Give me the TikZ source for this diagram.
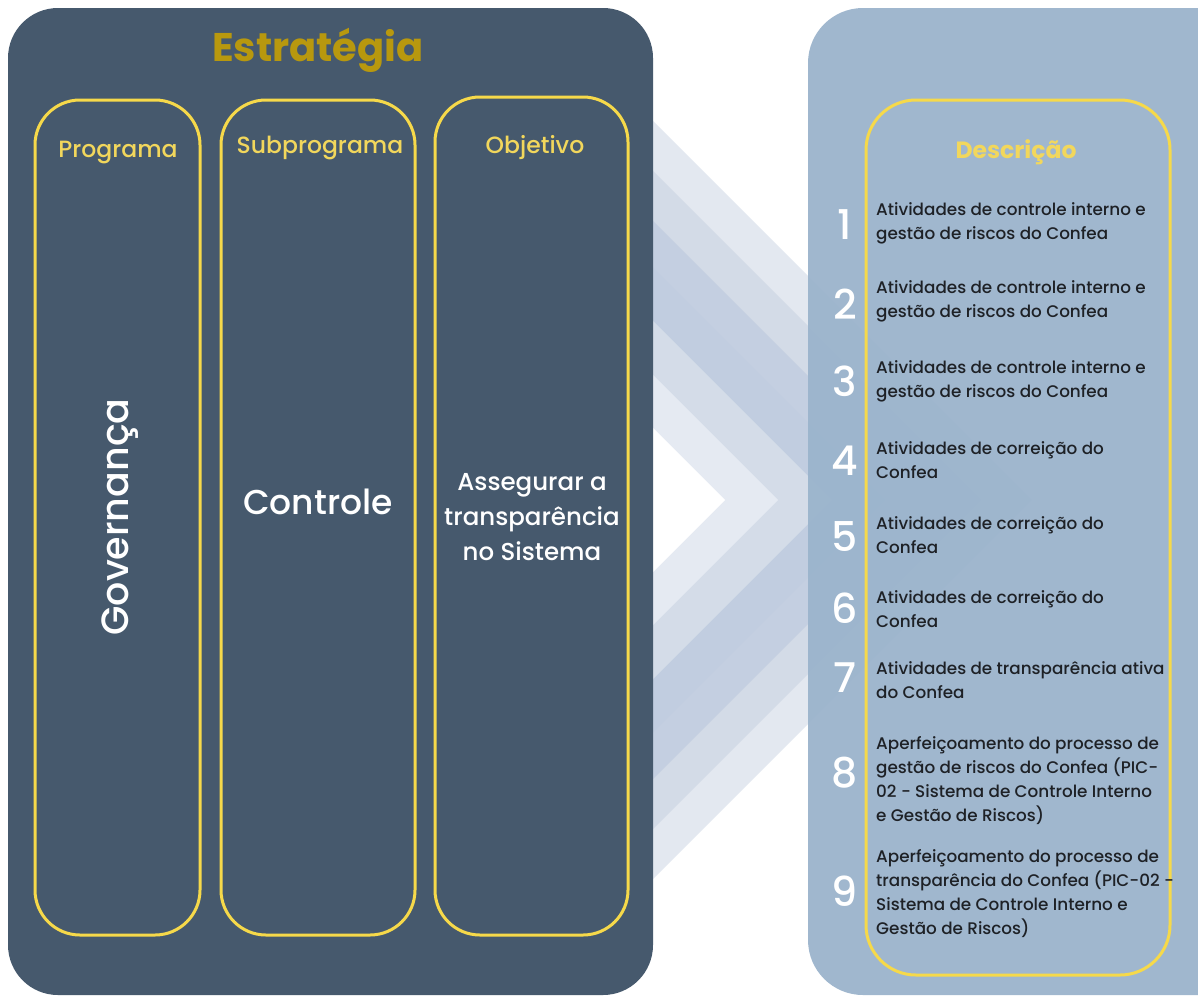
\documentclass[tikz,border=0pt]{standalone}
\usepackage{fontspec}
\setmainfont{Poppins}
\newfontfamily\pmed{Poppins Medium}
\definecolor{leftpanel}{HTML}{46596D}
\definecolor{rightpanel}{HTML}{9BB4CC}
\definecolor{boxyellow}{HTML}{F6D94A}
\definecolor{hdryellow}{HTML}{F2D75C}
\definecolor{titlegold}{HTML}{B8980E}
\definecolor{desctext}{HTML}{1E2126}
\definecolor{chA}{HTML}{E3E8F0}
\definecolor{chB}{HTML}{D3DBE7}
\definecolor{chC}{HTML}{C4CFE1}
\definecolor{chD}{HTML}{C1CDE0}
\definecolor{chE}{HTML}{D4DCE8}
\definecolor{chF}{HTML}{E5EAF2}
\begin{document}
\begin{tikzpicture}[x=1pt,y=-1pt,
  ybox/.style={draw=boxyellow, line width=3pt, rounded corners=45pt, inner sep=0pt},
  hdr/.style={text=hdryellow, font=\pmed\fontsize{23.5}{26}\selectfont},
  big/.style={text=white, align=center},
  num/.style={text=white, font=\pmed\fontsize{41}{41}\selectfont},
  desc/.style={text=desctext, font=\pmed\fontsize{16.8}{24}\selectfont, align=left, anchor=west, inner sep=0pt},
]
\useasboundingbox (0,0) rectangle (1198,996);
\clip (0,0) rectangle (1198,996);
\fill[white] (0,0) rectangle (1198,996);
% chevrons
\begin{scope}
\clip (653,0) rectangle (1198,996);
\foreach \t/\c in {1032/chA, 982/chB, 932/chC, 885/chD, 832/chE, 778/chF, 725/white}
  \fill[\c] (330,{500-(\t-330)}) -- (\t,500) -- (330,{500+(\t-330)}) -- cycle;
\end{scope}
% panels
\fill[leftpanel, rounded corners=50pt] (8,8) rectangle (653,995);
\fill[rightpanel, opacity=0.95, rounded corners=55pt] (808,8) rectangle (1280,995);
% title
\node[text=titlegold, font=\bfseries\fontsize{40}{42}\selectfont] (title) at (318,50) {Estratégia};
% boxes
\node[ybox, minimum width=165pt, minimum height=835pt] (prog) at (117.5,517.5) {};
\node[ybox, minimum width=194pt, minimum height=835pt] (sub) at (318,517.5) {};
\node[ybox, minimum width=193pt, minimum height=838pt] (obj) at (531.5,516) {};
\node[ybox, rounded corners=50pt, minimum width=304pt, minimum height=875pt] (descbox) at (1018,537.5) {};
% headers
\node[hdr] (progT) at (118,153) {Programa};
\node[hdr] (subT) at (320,148) {Subprograma};
\node[hdr] (objT) at (535,148) {Objetivo};
\node[text=hdryellow, font=\bfseries\fontsize{23.5}{26}\selectfont] (descT) at (1016,152) {Descrição};
% contents
\node[big, rotate=90, font=\pmed\fontsize{38}{38}\selectfont] (gov) at (120,517) {Governança};
\node[big, font=\pmed\fontsize{34.5}{34}\selectfont] (ctrl) at (318,502) {Controle};
\node[big, font=\pmed\fontsize{24.5}{35}\selectfont] (assg) at (532,517) {Assegurar a\\transparência\\no Sistema};
% numbers
\foreach \n/\y in {1/225,2/304,3/381,4/461,5/537,6/608,7/678,8/773,9/891}
  \node[num] (n\n) at (845,\y) {\n};
% descriptions
\node[desc] (d1) at (876,223) {Atividades de controle interno e\\gestão de riscos do Confea};
\node[desc] (d2) at (876,301) {Atividades de controle interno e\\gestão de riscos do Confea};
\node[desc] (d3) at (876,381) {Atividades de controle interno e\\gestão de riscos do Confea};
\node[desc] (d4) at (876,460) {Atividades de correição do\\Confea};
\node[desc] (d5) at (876,535) {Atividades de correição do\\Confea};
\node[desc] (d6) at (876,609) {Atividades de correição do\\Confea};
\node[desc] (d7) at (876,680) {Atividades de transparência ativa\\do Confea};
\node[desc] (d8) at (876,780.5) {Aperfeiçoamento do processo de\\gestão de riscos do Confea (PIC-\\02 - Sistema de Controle Interno\\e Gestão de Riscos)};
\node[desc] (d9) at (876,894) {Aperfeiçoamento do processo de\\transparência do Confea (PIC-02 -\\Sistema de Controle Interno e\\Gestão de Riscos)};
\end{tikzpicture}
\end{document}
